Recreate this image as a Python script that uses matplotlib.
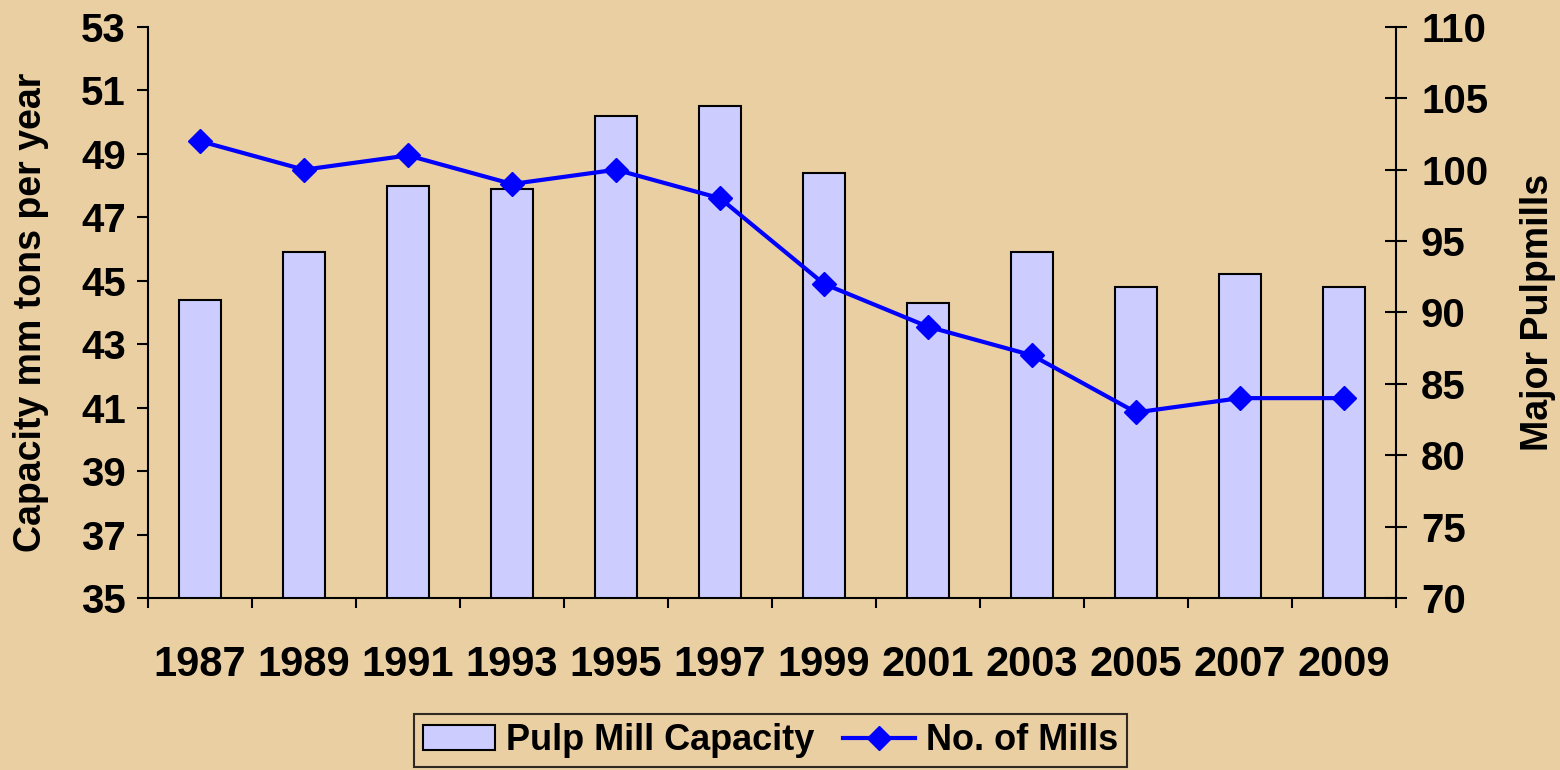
import matplotlib.pyplot as plt
import numpy as np

# Données
years = ['1987', '1989', '1991', '1993', '1995', '1997',
         '1999', '2001', '2003', '2005', '2007', '2009']
capacity = [44.4, 45.9, 48.0, 47.9, 50.2, 50.5, 48.4, 44.3, 45.9, 44.8, 45.2, 44.8]
mills = [102, 100, 101, 99, 100, 98, 92, 89, 87, 83, 84, 84]

bg = '#EACFA3'
plt.rcParams['font.family'] = ['Liberation Sans', 'DejaVu Sans']
plt.rcParams['font.weight'] = 'bold'

fig = plt.figure(figsize=(15.6, 7.7), dpi=100, facecolor=bg)
ax = fig.add_axes([0.0949, 0.2234, 0.8000, 0.7416])
ax.set_facecolor('none')

x = np.arange(len(years))
bars = ax.bar(x, capacity, width=0.41, color='#CCCCFF', edgecolor='black',
              linewidth=1.5, label='Pulp Mill Capacity', zorder=2)

ax.set_xlim(-0.5, len(years) - 0.5)
ax.set_ylim(35, 53)
ax.set_yticks(range(35, 54, 2))
ax.set_xticks(x)
ax.set_xticklabels(years)
ax.set_xticks(np.arange(-0.5, len(years), 1), minor=True)
ax.tick_params(axis='x', which='major', length=0, pad=34, labelsize=30)
ax.tick_params(axis='x', which='minor', length=7, width=1.5, direction='out')
ax.tick_params(axis='y', length=8, width=1.5, direction='out', pad=8, labelsize=29)
ax.set_ylabel('Capacity mm tons per year', fontsize=27, fontweight='bold')
ax.yaxis.set_label_coords(-0.079, 0.5)

ax2 = ax.twinx()
line, = ax2.plot(x, mills, color='#0000FF', linewidth=3, marker='D',
                 markersize=12, label='No. of Mills', zorder=3)
ax2.set_ylim(70, 110)
ax2.set_yticks(range(70, 111, 5))
ax2.tick_params(axis='y', length=16, width=1.5, direction='inout', pad=10, labelsize=29)
ax2.set_ylabel('Major Pulpmills', fontsize=27, fontweight='bold')
ax2.yaxis.set_label_coords(1.099, 0.5)

for a in (ax, ax2):
    a.spines['top'].set_visible(False)
    for s in a.spines.values():
        s.set_linewidth(1.5)
ax2.spines['left'].set_visible(False)
ax2.spines['bottom'].set_visible(False)
ax.spines['right'].set_visible(False)

leg = fig.legend(handles=[bars, line], loc='center', bbox_to_anchor=(0.494, 0.038),
                 ncol=2, fontsize=26, frameon=True, fancybox=False,
                 edgecolor='black', facecolor=bg, handlelength=2.0,
                 handletextpad=0.3, columnspacing=0.8, borderpad=0.25)
leg.get_frame().set_linewidth(1.5)

fig.savefig('out.png', dpi=100, facecolor=bg)
